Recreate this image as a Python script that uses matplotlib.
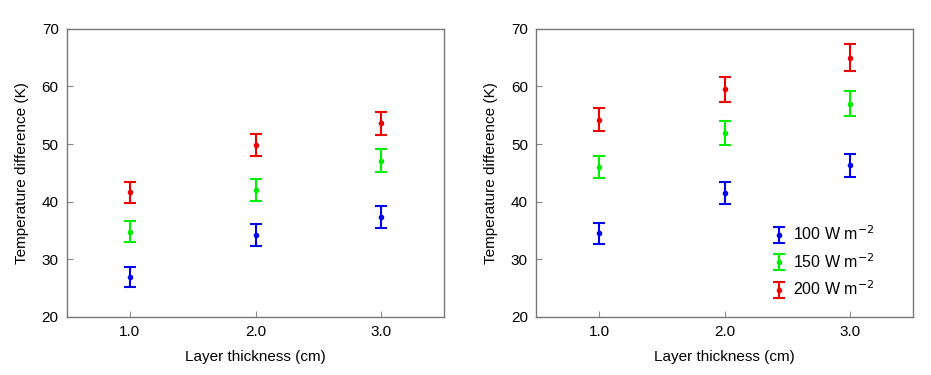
import matplotlib
matplotlib.use("Agg")
import matplotlib.pyplot as plt

plt.rcParams['font.family'] = ['Liberation Sans', 'DejaVu Sans']

thickness = [1.0, 2.0, 3.0]
tick_labels = ["1.0", "2.0", "3.0"]
series_names = ["100 W m$^{-2}$", "150 W m$^{-2}$", "200 W m$^{-2}$"]
colors = ["#0000ee", "#00ee00", "#ee0000"]

left_100 = [26.9, 34.2, 37.3]
left_150 = [34.8, 42.0, 47.1]
left_200 = [41.6, 49.9, 53.6]
left_err_100 = [1.8, 1.9, 1.9]
left_err_150 = [1.8, 1.9, 2.0]
left_err_200 = [1.8, 1.9, 2.0]

right_100 = [34.5, 41.5, 46.3]
right_150 = [46.0, 51.9, 57.0]
right_200 = [54.2, 59.5, 65.0]
right_err_100 = [1.8, 1.9, 2.0]
right_err_150 = [1.9, 2.1, 2.2]
right_err_200 = [2.0, 2.2, 2.3]

fig = plt.figure(figsize=(9.31, 3.75), dpi=100)
ax1 = fig.add_axes([0.072, 0.155, 0.405, 0.768])
ax2 = fig.add_axes([0.576, 0.155, 0.405, 0.768])

panels = [
    (ax1, [left_100, left_150, left_200], [left_err_100, left_err_150, left_err_200]),
    (ax2, [right_100, right_150, right_200], [right_err_100, right_err_150, right_err_200]),
]

for ax, vals, errs in panels:
    for v, e, c, name in zip(vals, errs, colors, series_names):
        ax.errorbar(thickness, v, yerr=e, fmt='o', color=c, ecolor=c,
                    markersize=3, elinewidth=1.5, capsize=4.5, capthick=1.5,
                    label=name)
    ax.set_xlim(0.5, 3.5)
    ax.set_ylim(20, 70)
    ax.set_xticks(thickness)
    ax.set_xticklabels(tick_labels)
    ax.set_yticks([20, 30, 40, 50, 60, 70])
    ax.tick_params(direction='in', length=4, width=0.8, color='#888888',
                   labelsize=11, pad=6)
    for s in ax.spines.values():
        s.set_color('#777777')
        s.set_linewidth(1.0)
    ax.set_xlabel("Layer thickness (cm)", fontsize=11, labelpad=8)
    ax.set_ylabel("Temperature difference (K)", fontsize=11, labelpad=9)

ax2.legend(loc='lower right', bbox_to_anchor=(0.935, 0.015), frameon=False,
           fontsize=11.5, handletextpad=0.4, labelspacing=0.55, handlelength=1.0)

fig.savefig("out.png", dpi=100)
